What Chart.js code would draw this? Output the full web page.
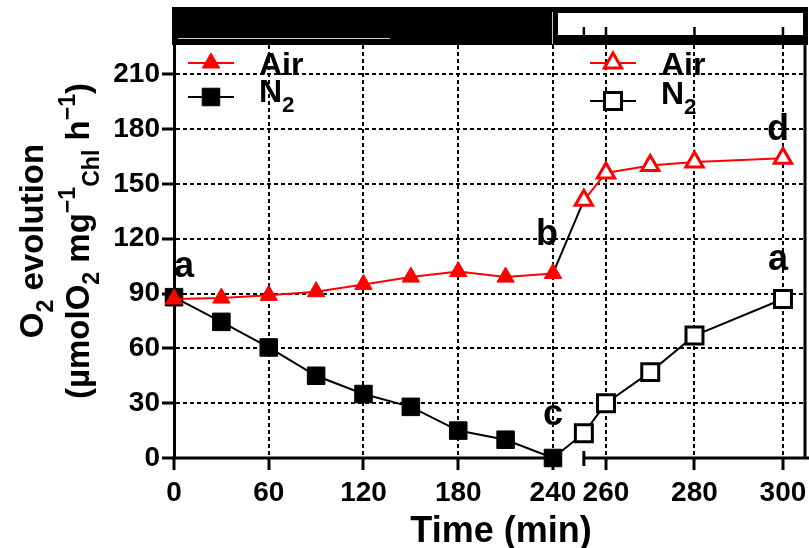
<!DOCTYPE html>
<html>
<head>
<meta charset="utf-8">
<script src="https://cdn.jsdelivr.net/npm/chart.js@4.4.0/dist/chart.umd.min.js"></script>
<style>
  body { margin: 0; background: #fff; }
  canvas { display: block; }
</style>
</head>
<body>
<canvas id="o2Chart" width="809" height="548"></canvas>
<script>
// values (dark period, then light period after the break)
const darkTimes = [0, 30, 60, 90, 120, 150, 180, 210, 240];
const airDark = [87, 87.5, 89, 91, 95, 99, 102, 99, 101];
const n2Dark = [88, 74.5, 60.5, 45, 35, 28, 15, 10, 0];
const lightTimes = [255, 260, 270, 280, 300];
const airLight = [141, 156, 160, 162, 164];
const n2Light = [13.5, 30, 47, 67, 87];
const xTicks = [0, 60, 120, 180, 240, 260, 280, 300];
const yTicks = [0, 30, 60, 90, 120, 150, 180, 210];

const FONT = '"Liberation Sans", Arial, sans-serif';
const RED = "#ff0000";

// broken x axis: two linear pieces sharing one scale
const xSegA = { from: 0, to: 240, start: 0, end: 0.6006 };
const xSegB = { from: 260, to: 300, start: 0.6846, end: 0.9651 };
const xCut = 248;
const axisEndA = 244;
const axisStartB = 255;

class BrokenScale extends Chart.LinearScale {
  getPixelForValue(value) {
    if (value === null || value === undefined) return NaN;
    const s = value < xCut ? xSegA : xSegB;
    const d = s.start + (value - s.from) / (s.to - s.from) * (s.end - s.start);
    return this.getPixelForDecimal(d);
  }
  getValueForPixel(pixel) {
    const d = this.getDecimalForPixel(pixel);
    const s = d < (xSegA.end + xSegB.start) / 2 ? xSegA : xSegB;
    return s.from + (d - s.start) / (s.end - s.start) * (s.to - s.from);
  }
}
BrokenScale.id = "broken";
BrokenScale.defaults = Chart.LinearScale.defaults;
Chart.register(BrokenScale);

const toPoints = (xs, ys) => xs.map((t, i) => ({ x: t, y: ys[i] }));

const labelParts = {
  "Air": [["Air"]],
  "N2": [["N"], ["2", "sub"]]
};

function richFont(size) {
  return "bold " + size + "px " + FONT;
}

function richWidth(ctx, parts, size) {
  let w = 0;
  parts.forEach(([t, m]) => {
    ctx.font = richFont(m ? size * 0.7 : size);
    w += ctx.measureText(t).width;
  });
  return w;
}

function drawRich(ctx, parts, x, y, size) {
  parts.forEach(([t, m]) => {
    ctx.font = richFont(m ? size * 0.7 : size);
    let dy = 0;
    if (m === "sub") dy = size * 0.3;
    if (m === "sup") dy = -size * 0.42;
    ctx.fillText(t, x, y + dy);
    x += ctx.measureText(t).width;
  });
}

const legendItems = [
  { ds: 0, x: 188, y: 63, textY: 75 },
  { ds: 1, x: 188, y: 97, textY: 102 },
  { ds: 2, x: 590, y: 63, textY: 75 },
  { ds: 3, x: 590, y: 101, textY: 104 }
];

const letters = [
  { text: "a", x: darkTimes[0], y: n2Dark[0], dx: 10, dy: -20 },
  { text: "b", x: darkTimes[8], y: airDark[8], dx: -6, dy: -28 },
  { text: "c", x: darkTimes[8], y: n2Dark[8], dx: 0, dy: -33 },
  { text: "d", x: lightTimes[4], y: airLight[4], dx: -5, dy: -18 },
  { text: "a", x: lightTimes[4], y: n2Light[4], dx: -5, dy: -29 }
];

const yTitle1 = [["O"], ["2", "sub"], [" evolution"]];
const yTitle2 = [["(\u00b5molO"], ["2", "sub"], [" mg"], ["\u22121", "sup"], ["Chl", "sub"], [" h"], ["\u22121", "sup"], [")"]];

const decor = {
  id: "decor",
  beforeDatasetsDraw(chart) {
    const { ctx, chartArea: a, scales: { x, y } } = chart;
    const y0 = y.getPixelForValue(0);
    const bx = x.getPixelForValue(axisStartB);
    ctx.save();
    ctx.strokeStyle = "#000";
    ctx.lineWidth = 3;
    ctx.beginPath();
    ctx.moveTo(a.left - 1.5, y0);
    ctx.lineTo(x.getPixelForValue(axisEndA), y0);
    ctx.moveTo(bx, y0);
    ctx.lineTo(chart.width, y0);
    ctx.moveTo(bx, y0 - 7);
    ctx.lineTo(bx, y0 + 8);
    ctx.moveTo(a.right, a.top);
    ctx.lineTo(a.right, y0);
    ctx.stroke();
    ctx.restore();
  },
  afterDraw(chart) {
    const { ctx, chartArea: a, scales: { x, y } } = chart;
    ctx.save();

    // dark / light bar on top
    const left = x.getPixelForValue(0) - 2;
    const split = x.getPixelForValue(240);
    const right = chart.width - 1;
    ctx.fillStyle = "#000";
    ctx.fillRect(left, 7, right - left, a.top - 7);
    ctx.fillStyle = "#fff";
    ctx.fillRect(split + 5, 13, right - split - 10, 22);
    ctx.strokeStyle = "#c8c8c8";
    ctx.lineWidth = 1;
    ctx.beginPath();
    ctx.moveTo(left + 6, 38.5);
    ctx.lineTo(390, 38.5);
    ctx.moveTo(split - 0.5, 12);
    ctx.lineTo(split - 0.5, 44);
    ctx.stroke();
    ctx.strokeStyle = "#000";
    ctx.lineWidth = 2.5;
    ctx.beginPath();
    [axisStartB].concat(xTicks.filter(v => v > 240)).forEach(v => {
      const p = x.getPixelForValue(v);
      ctx.moveTo(p, 27);
      ctx.lineTo(p, 36);
    });
    ctx.stroke();

    // legends
    legendItems.forEach(item => {
      const ds = chart.data.datasets[item.ds];
      ctx.strokeStyle = ds.borderColor;
      ctx.lineWidth = 2;
      ctx.beginPath();
      ctx.moveTo(item.x, item.y);
      ctx.lineTo(item.x + 46, item.y);
      ctx.stroke();
      ctx.fillStyle = ds.pointBackgroundColor;
      ctx.strokeStyle = ds.pointBorderColor;
      ctx.lineWidth = ds.pointBorderWidth;
      Chart.helpers.drawPoint(ctx, {
        pointStyle: ds.pointStyle,
        radius: ds.pointRadius,
        rotation: 0,
        borderWidth: ds.pointBorderWidth
      }, item.x + 23, item.y);
      ctx.fillStyle = "#000";
      ctx.textAlign = "left";
      ctx.textBaseline = "alphabetic";
      drawRich(ctx, labelParts[ds.label], item.x + 71, item.textY, 32);
    });

    // point letters
    ctx.fillStyle = "#000";
    ctx.textAlign = "center";
    ctx.font = richFont(36);
    letters.forEach(l => {
      ctx.fillText(l.text, x.getPixelForValue(l.x) + l.dx, y.getPixelForValue(l.y) + l.dy);
    });

    // axis titles
    ctx.textAlign = "left";
    const cy = 241;
    [[yTitle1, 43], [yTitle2, 89]].forEach(([parts, base]) => {
      ctx.save();
      ctx.translate(0, cy);
      ctx.rotate(-Math.PI / 2);
      const w = richWidth(ctx, parts, 33);
      drawRich(ctx, parts, -w / 2, base, 33);
      ctx.restore();
    });
    ctx.textAlign = "center";
    ctx.font = richFont(36);
    ctx.fillText("Time (min)", 501, 542);

    ctx.restore();
  }
};

const gridStyle = {
  color: c => (c.tick && c.tick.value === 0 ? "rgba(0,0,0,0)" : "#000"),
  lineWidth: 2,
  tickColor: "#000",
  tickWidth: 3,
  tickLength: 12,
  tickBorderDash: []
};

new Chart(document.getElementById("o2Chart"), {
  type: "line",
  data: {
    datasets: [
      {
        label: "Air",
        data: toPoints(darkTimes, airDark),
        borderColor: RED,
        borderWidth: 2,
        pointStyle: "triangle",
        pointRadius: 10,
        pointBackgroundColor: RED,
        pointBorderColor: RED,
        pointBorderWidth: 1,
        clip: false
      },
      {
        label: "N2",
        data: toPoints(darkTimes, n2Dark),
        borderColor: "#000",
        borderWidth: 2,
        pointStyle: "rect",
        pointRadius: 12.4,
        pointBackgroundColor: "#000",
        pointBorderColor: "#000",
        pointBorderWidth: 1,
        clip: false
      },
      {
        label: "Air",
        data: toPoints(lightTimes, airLight),
        borderColor: RED,
        borderWidth: 2,
        pointStyle: "triangle",
        pointRadius: 10,
        pointBackgroundColor: "#fff",
        pointBorderColor: RED,
        pointBorderWidth: 3,
        clip: false
      },
      {
        label: "N2",
        data: toPoints(lightTimes, n2Light),
        borderColor: "#000",
        borderWidth: 2,
        pointStyle: "rect",
        pointRadius: 12,
        pointBackgroundColor: "#fff",
        pointBorderColor: "#000",
        pointBorderWidth: 3,
        clip: false
      },
      {
        label: "link-air",
        data: [
          { x: darkTimes[darkTimes.length - 1], y: airDark[airDark.length - 1] },
          { x: lightTimes[0], y: airLight[0] }
        ],
        borderColor: "#000",
        borderWidth: 2,
        pointRadius: 0,
        clip: false
      },
      {
        label: "link-n2",
        data: [
          { x: darkTimes[darkTimes.length - 1], y: n2Dark[n2Dark.length - 1] },
          { x: lightTimes[0], y: n2Light[0] }
        ],
        borderColor: "#000",
        borderWidth: 2,
        pointRadius: 0,
        clip: false
      }
    ]
  },
  options: {
    responsive: false,
    animation: false,
    devicePixelRatio: 1,
    layout: { autoPadding: false, padding: { top: 45, right: 4, left: 0, bottom: 0 } },
    plugins: {
      legend: { display: false },
      tooltip: { enabled: false }
    },
    scales: {
      x: {
        type: "broken",
        min: 0,
        max: 305,
        afterBuildTicks: s => { s.ticks = xTicks.map(v => ({ value: v })); },
        afterFit: s => { s.height = 90; s.paddingLeft = 0; s.paddingRight = 0; },
        grid: gridStyle,
        border: { display: false, dash: [4, 3] },
        ticks: {
          autoSkip: false,
          maxRotation: 0,
          padding: 6,
          color: "#000",
          font: { family: FONT, size: 28, weight: "bold" },
          callback: v => String(v)
        }
      },
      y: {
        min: 0,
        max: 226,
        afterBuildTicks: s => { s.ticks = yTicks.map(v => ({ value: v })); },
        afterFit: s => { s.width = 174; s.paddingTop = 0; s.paddingBottom = 0; },
        grid: gridStyle,
        border: { display: true, color: "#000", width: 3, dash: [4, 3] },
        ticks: {
          padding: 2,
          color: "#000",
          font: { family: FONT, size: 28, weight: "bold" },
          callback: v => String(v)
        }
      }
    }
  },
  plugins: [decor]
});
</script>
</body>
</html>
